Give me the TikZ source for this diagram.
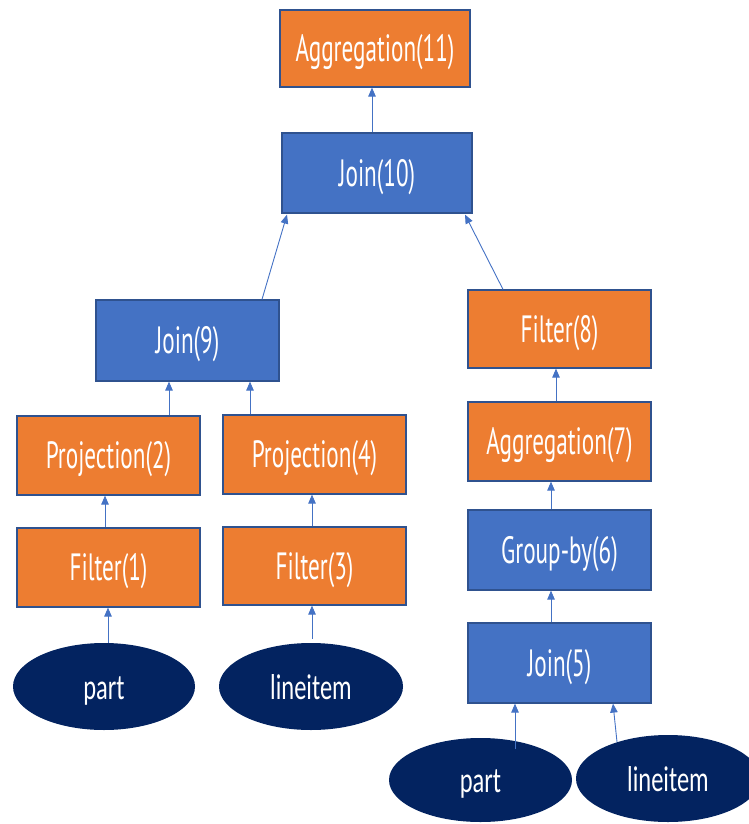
\documentclass[tikz,border=0pt]{standalone}
\usepackage{fontspec}
\usetikzlibrary{shapes.geometric,arrows.meta}
\newfontfamily\boxfont[FakeStretch=0.61]{PT Sans}
\newfontfamily\ovalfont[FakeStretch=0.68]{Carlito}
\definecolor{opOrange}{HTML}{ED7D31}
\definecolor{opBlue}{HTML}{4472C4}
\definecolor{opEdge}{HTML}{2F528F}
\definecolor{tableNavy}{HTML}{032360}
\definecolor{linkBlue}{HTML}{4472C4}
\tikzset{
  opbox/.style={rectangle, draw=opEdge, line width=1.2pt, text=white,
    inner sep=0pt, text height=26.5pt, text depth=0pt,
    font=\boxfont\fontsize{38}{42}\selectfont},
  orangeop/.style={opbox, fill=opOrange},
  blueop/.style={opbox, fill=opBlue},
  tableoval/.style={ellipse, fill=tableNavy, draw=none, text=white, inner sep=0pt,
    text height=25pt, text depth=0pt,
    font=\ovalfont\fontsize{36}{40}\selectfont},
  link/.style={draw=linkBlue, line width=0.9pt, -{Triangle[length=9pt,width=7.5pt]}}
}
\begin{document}
\begin{tikzpicture}[x=1pt,y=-1pt]
\useasboundingbox (0,0) rectangle (749,824);

% operator boxes
\node[orangeop, minimum width=190pt, minimum height=77pt] (agg11) at (375,48.5) {Aggregation(11)};
\node[blueop,   minimum width=190pt, minimum height=80pt] (join10) at (377,173) {Join(10)};
\node[blueop,   minimum width=183pt, minimum height=81pt] (join9) at (187.5,340.5) {Join(9)};
\node[orangeop, minimum width=183pt, minimum height=79pt] (proj2) at (108.5,455.5) {Projection(2)};
\node[orangeop, minimum width=183pt, minimum height=79pt] (proj4) at (314.5,454.5) {Projection(4)};
\node[orangeop, minimum width=183pt, minimum height=79pt] (filt1) at (108.5,567.5) {Filter(1)};
\node[orangeop, minimum width=183pt, minimum height=78pt] (filt3) at (314.5,566) {Filter(3)};
\node[orangeop, minimum width=183pt, minimum height=78pt] (filt8) at (559.5,329) {Filter(8)};
\node[orangeop, minimum width=183pt, minimum height=79pt] (agg7) at (559.5,441.5) {Aggregation(7)};
\node[blueop,   minimum width=183pt, minimum height=80pt] (grp6) at (559.5,550) {Group-by(6)};
\node[blueop,   minimum width=183pt, minimum height=80pt] (join5) at (559.5,663) {Join(5)};

% base tables
\node[tableoval, minimum width=182pt, minimum height=87pt] (part1) at (104,686.5) {part};
\node[tableoval, minimum width=184pt, minimum height=87pt] (line1) at (311,686.5) {lineitem};
\node[tableoval, minimum width=183pt, minimum height=84pt] (part2) at (480.5,780) {part};
\node[tableoval, minimum width=184pt, minimum height=87pt] (line2) at (668,778.5) {lineitem};

% data flow
\draw[link] ([xshift=-5pt]join10.north) -- ([xshift=-3pt]agg11.south);
\draw[link] ([xshift=74.5pt]join9.north) -- ([xshift=-90pt,yshift=-1pt]join10.south);
\draw[link] ([xshift=-56.5pt]filt8.north) -- ([xshift=88pt,yshift=-1pt]join10.south);
\draw[link] ([xshift=60.5pt]proj2.north) -- ([xshift=-18.5pt]join9.south);
\draw[link] ([xshift=-64.5pt]proj4.north) -- ([xshift=62.5pt]join9.south);
\draw[link] ([xshift=-3.5pt]filt1.north) -- ([xshift=-3.5pt]proj2.south);
\draw[link] ([xshift=-2.5pt]filt3.north) -- ([xshift=-2.5pt]proj4.south);
\draw[link] ([xshift=4pt]part1.north) -- ([xshift=-0.5pt]filt1.south);
\draw[link] ([xshift=1pt,yshift=4pt]line1.north) -- ([xshift=-2.5pt]filt3.south);
\draw[link] ([xshift=-3.5pt]agg7.north) -- ([xshift=-3.5pt]filt8.south);
\draw[link] ([xshift=-8.5pt]grp6.north) -- ([xshift=-8.5pt]agg7.south);
\draw[link] ([xshift=-8.5pt]join5.north) -- ([xshift=-8.5pt]grp6.south);
\draw[link] ([xshift=34.5pt,yshift=31pt]part2.center) -- ([xshift=-44.5pt]join5.south);
\draw[link] ([xshift=-51pt,yshift=36.5pt]line2.center) -- ([xshift=53.5pt]join5.south);
\end{tikzpicture}
\end{document}
